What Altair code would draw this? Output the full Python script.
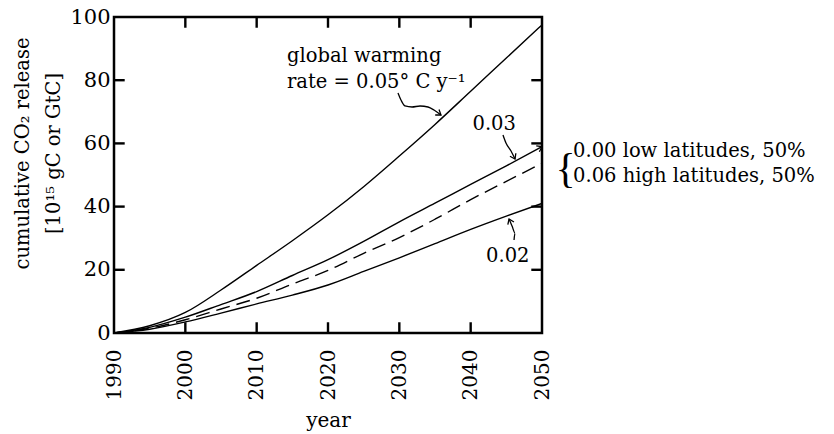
import altair as alt
import pandas as pd

# Cumulative CO2 release (GtC) under different global warming rates
years = [1990, 1995, 2000, 2005, 2010, 2015, 2020, 2025, 2030, 2035, 2040, 2045, 2050]
warm_05 = [0, 2.3, 6.5, 13.6, 21.4, 29.2, 37.4, 46.3, 56.0, 66.0, 76.5, 87.0, 97.5]
warm_03 = [0, 1.8, 5.0, 9.0, 13.1, 18.2, 23.2, 29.0, 35.2, 41.1, 47.0, 52.9, 59.0]
mixed = [0, 1.5, 4.2, 7.6, 11.0, 15.5, 19.8, 25.2, 30.2, 36.0, 42.2, 48.0, 53.7]
warm_02 = [0, 1.2, 3.5, 6.3, 9.2, 12.0, 15.2, 19.5, 23.8, 28.3, 32.8, 37.0, 41.0]

x_tick_years = [2000, 2010, 2020, 2030, 2040]
y_tick_values = [20, 40, 60, 80]

# Text annotations (anchor in data units)
note_text = ["global warming", "rate = 0.05° C y⁻¹", "0.03", "0.02",
             "0.00 low latitudes, 50%", "0.06 high latitudes, 50%"]
note_year = [2014.25, 2014.25, 2043.3, 2045.2, 2054.35, 2054.35]
note_value = [85.9, 77.5, 64.2, 22.5, 55.8, 47.9]
note_align = ["left", "left", "center", "center", "left", "left"]

# Curly leader arrows pointing at the curves
arrow_id = [1] * 8 + [2] * 4 + [3] * 4
arrow_year = [2029.81, 2030.23, 2030.79, 2031.78, 2032.90, 2034.02, 2034.86, 2035.84,
              2044.53, 2044.95, 2045.66, 2046.22,
              2046.08, 2046.22, 2045.80, 2045.38]
arrow_value = [75.95, 73.73, 71.84, 71.52, 71.84, 71.52, 70.57, 68.99,
               62.66, 60.13, 57.59, 55.06,
               29.43, 31.65, 33.86, 36.08]
head_year = [2035.84, 2046.22, 2045.38, 2050.0]
head_value = [68.99, 55.06, 36.08, 59.0]
head_angle = [35, 63, 247, 332]

W, H = 428, 316
FONT = "DejaVu Serif"
TICK_YEARS = 1.5   # inward tick length along x, in years
TICK_UNITS = 3.4   # inward tick length along y, in GtC

solid = pd.DataFrame({
    "year": years * 3,
    "value": warm_05 + warm_03 + warm_02,
    "series": ["0.05"] * len(years) + ["0.03"] * len(years) + ["0.02"] * len(years),
})
dashed = pd.DataFrame({"year": years, "value": mixed})
notes = pd.DataFrame({"text": note_text, "year": note_year, "value": note_value,
                      "align": note_align})
arrows = pd.DataFrame({"id": arrow_id, "year": arrow_year, "value": arrow_value,
                       "order": list(range(len(arrow_id)))})
heads = pd.DataFrame({"year": head_year, "value": head_value, "ang": head_angle})

# Inward frame ticks, each one a two-point segment
tick_rows = []
for yr in x_tick_years:
    tick_rows += [("b%d" % yr, yr, 0.0), ("b%d" % yr, yr, TICK_UNITS),
                  ("t%d" % yr, yr, 100.0), ("t%d" % yr, yr, 100.0 - TICK_UNITS)]
for v in y_tick_values:
    tick_rows += [("l%d" % v, 1990.0, v), ("l%d" % v, 1990.0 + TICK_YEARS, v),
                  ("r%d" % v, 2050.0, v), ("r%d" % v, 2050.0 - TICK_YEARS, v)]
ticks = pd.DataFrame(tick_rows, columns=["tick", "year", "value"])

x_scale = alt.Scale(domain=[1990, 2050], nice=False, zero=False)
y_scale = alt.Scale(domain=[0, 100], nice=False)

x_enc = alt.X(
    "year:Q", scale=x_scale,
    axis=alt.Axis(values=[1990, 2000, 2010, 2020, 2030, 2040, 2050], format="d",
                  labelAngle=-90, labelAlign="right", labelBaseline="middle",
                  labelPadding=16, labelFontSize=20, labelFont=FONT, labelColor="black",
                  ticks=False, tickSize=0, domain=False, grid=False,
                  title="year", titleFont=FONT, titleFontSize=20, titleFontWeight="normal",
                  titleColor="black", titleBaseline="alphabetic", titleY=93),
)
y_enc = alt.Y(
    "value:Q", scale=y_scale,
    axis=alt.Axis(values=[0, 20, 40, 60, 80, 100], labelPadding=4, labelFontSize=21,
                  labelFont=FONT, labelColor="black",
                  ticks=False, tickSize=0, domain=False, grid=False,
                  title=["cumulative CO₂ release", "[10¹⁵ gC or GtC]"],
                  titleFont=FONT, titleFontSize=19.5, titleFontWeight="normal",
                  titleColor="black", titleAngle=-90, titleAlign="center",
                  titleBaseline="middle", titleLineHeight=31, titleX=-92, titleY=136),
)

# Frame ticks drawn first so the curves sit on top of them
tick_marks = alt.Chart(ticks).mark_line(color="#000000", strokeWidth=2.4).encode(
    x=x_enc, y=y_enc, detail="tick:N"
)

lines = alt.Chart(solid).mark_line(color="black", strokeWidth=1.4, interpolate="monotone").encode(
    x="year:Q", y="value:Q", detail="series:N"
)
dash_line = alt.Chart(dashed).mark_line(
    color="black", strokeWidth=1.4, strokeDash=[14, 7], interpolate="monotone"
).encode(x="year:Q", y="value:Q")

text_left = alt.Chart(notes[notes["align"] == "left"]).mark_text(
    font=FONT, fontSize=19.5, align="left", baseline="alphabetic", color="black"
).encode(x="year:Q", y="value:Q", text="text:N")
text_center = alt.Chart(notes[notes["align"] == "center"]).mark_text(
    font=FONT, fontSize=19.5, align="center", baseline="alphabetic", color="black"
).encode(x="year:Q", y="value:Q", text="text:N")

brace = alt.Chart(pd.DataFrame({"year": [2053.3], "value": [51.8], "t": ["{"]})).mark_text(
    font="Liberation Serif", fontSize=42, align="center", baseline="middle", color="black"
).encode(x="year:Q", y="value:Q", text="t:N")

arrow_lines = alt.Chart(arrows).mark_line(color="black", strokeWidth=1.3, interpolate="monotone").encode(
    x="year:Q", y="value:Q", detail="id:N", order="order:Q"
)
arrow_heads = alt.Chart(heads).mark_point(
    shape="M -1 -0.7 L 0 0 L -1 0.7", filled=False, color="black",
    strokeWidth=1.3, size=90, opacity=1
).encode(x="year:Q", y="value:Q", angle=alt.Angle("ang:Q", scale=None))

chart = alt.layer(
    tick_marks, lines, dash_line,
    text_left, text_center, brace, arrow_lines, arrow_heads
).properties(
    width=W, height=H,
    padding={"left": 114, "top": 17, "right": 292, "bottom": 101},
    autosize=alt.AutoSizeParams(type="none"),
    background="white",
).configure_view(stroke="black", strokeWidth=2.5)

chart.save("out.html", embed_options={"renderer": "svg", "actions": False})
